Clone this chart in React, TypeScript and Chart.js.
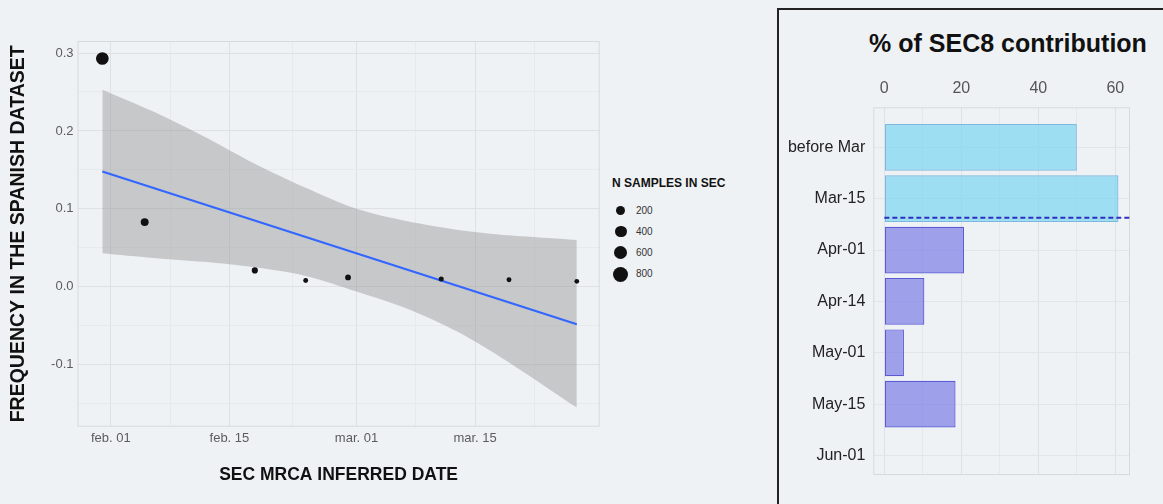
import React, { useEffect, useRef } from 'react';
import { Chart, registerables } from 'chart.js';

Chart.register(...registerables);

const FONT = '"Liberation Sans", Arial, Helvetica, sans-serif';

// ---------- Left chart data (days counted from 1 Feb 2020) ----------
const pointDays = [-1, 4, 17, 23, 28, 39, 47, 55];
const pointFreq = [0.293, 0.083, 0.021, 0.008, 0.012, 0.010, 0.009, 0.007];
const pointSamples = [500, 110, 35, 8, 25, 10, 8, 6];

const fitDays = [-1, 55];
const fitFreq = [0.148, -0.048];

const bandDays = [-1, 5, 11, 17, 23, 29, 35, 41, 47, 55];
const bandUpper = [0.253, 0.225, 0.193, 0.158, 0.127, 0.1, 0.084, 0.073, 0.066, 0.06];
const bandLower = [0.043, 0.037, 0.032, 0.025, 0.014, -0.006, -0.028, -0.058, -0.097, -0.155];

const xMajorTicks = [0, 14, 29, 43];
const xMajorLabels = ['feb. 01', 'feb. 15', 'mar. 01', 'mar. 15'];
const xMinorTicks = [7, 21.5, 36, 50];
const yMajorTicks = [-0.1, 0, 0.1, 0.2, 0.3];
const yMajorLabels = ['-0.1', '0.0', '0.1', '0.2', '0.3'];
const yMinorTicks = [-0.15, -0.05, 0.05, 0.15, 0.25];
const legendSamples = [200, 400, 600, 800];

// ---------- Right chart data ----------
const periods = ['before Mar', 'Mar-15', 'Apr-01', 'Apr-14', 'May-01', 'May-15', 'Jun-01'];
const contribution = [50, 60.8, 20.7, 10.4, 5.1, 18.5, 0];
const periodGroup = ['early', 'early', 'late', 'late', 'late', 'late', 'late'];
const contribTicks = [0, 20, 40, 60];
const contribMinor = [10, 30, 50];
const thresholdPos = 1.37;

const groupFill: Record<string, string> = {
  early: 'rgba(126,213,241,0.72)',
  late: 'rgba(128,127,230,0.72)',
};
const groupBorder: Record<string, string> = {
  early: '#7db8e0',
  late: '#5a5ad4',
};

const sizeToRadius = (n: number) => 1.9 + 0.198 * Math.sqrt(n);

const near = (arr: number[], v: number) => arr.findIndex((a) => Math.abs(a - v) < 1e-6);

const panelBorder = {
  id: 'panelBorder',
  beforeDatasetsDraw(chart: any) {
    const { ctx, chartArea } = chart;
    ctx.save();
    ctx.strokeStyle = '#d6dadd';
    ctx.lineWidth = 1;
    ctx.strokeRect(chartArea.left + 0.5, chartArea.top + 0.5, chartArea.right - chartArea.left - 1, chartArea.bottom - chartArea.top - 1);
    ctx.restore();
  },
};

const thresholdLine = {
  id: 'thresholdLine',
  afterDatasetsDraw(chart: any) {
    const { ctx, chartArea, scales } = chart;
    const y = scales.y.getPixelForValue(thresholdPos);
    const x0 = scales.x.getPixelForValue(0);
    ctx.save();
    ctx.strokeStyle = '#2f2fc0';
    ctx.lineWidth = 2;
    ctx.setLineDash([5, 3]);
    ctx.beginPath();
    ctx.moveTo(x0, y);
    ctx.lineTo(chartArea.right, y);
    ctx.stroke();
    ctx.restore();
  },
};

export default function App() {
  const leftRef = useRef<HTMLCanvasElement>(null);
  const rightRef = useRef<HTMLCanvasElement>(null);

  useEffect(() => {
    const left = new Chart(leftRef.current as HTMLCanvasElement, {
      type: 'line',
      data: {
        datasets: [
          {
            label: 'samples',
            data: pointDays.map((d, i) => ({ x: d, y: pointFreq[i] })),
            showLine: false,
            pointRadius: pointSamples.map(sizeToRadius),
            pointBackgroundColor: '#111',
            pointBorderWidth: 0,
            pointHoverRadius: pointSamples.map(sizeToRadius),
          },
          {
            label: 'fit',
            data: fitDays.map((d, i) => ({ x: d, y: fitFreq[i] })),
            showLine: true,
            borderColor: '#3366ff',
            borderWidth: 2.2,
            pointRadius: 0,
            fill: false,
          },
          {
            label: 'upper',
            data: bandDays.map((d, i) => ({ x: d, y: bandUpper[i] })),
            showLine: true,
            borderColor: 'rgba(0,0,0,0)',
            borderWidth: 0,
            pointRadius: 0,
            tension: 0.3,
            fill: '+1',
            backgroundColor: 'rgba(150,150,150,0.46)',
          },
          {
            label: 'lower',
            data: bandDays.map((d, i) => ({ x: d, y: bandLower[i] })),
            showLine: true,
            borderColor: 'rgba(0,0,0,0)',
            borderWidth: 0,
            pointRadius: 0,
            tension: 0.3,
            fill: false,
          },
        ],
      } as any,
      options: {
        animation: false,
        responsive: false,
        events: [],
        layout: { padding: { top: 41, right: 0, left: 0, bottom: 0 } },
        plugins: { legend: { display: false }, tooltip: { enabled: false } },
        scales: {
          x: {
            type: 'linear',
            min: -3.93,
            max: 57.7,
            afterFit: (s: any) => {
              s.height = 77.3;
            },
            afterBuildTicks: (s: any) => {
              s.ticks = [...xMajorTicks, ...xMinorTicks].sort((a, b) => a - b).map((v) => ({ value: v }));
            },
            ticks: {
              autoSkip: false,
              maxRotation: 0,
              padding: 4,
              color: '#5c5c5c',
              font: { family: FONT, size: 13 },
              callback: (v: any) => {
                const i = near(xMajorTicks, Number(v));
                return i >= 0 ? xMajorLabels[i] : '';
              },
            },
            grid: {
              drawTicks: false,
              lineWidth: 1,
              color: (c: any) => (near(xMajorTicks, c.tick?.value) >= 0 ? '#dde1e4' : '#e7eaec'),
            },
            border: { display: false },
            title: {
              display: true,
              text: 'SEC MRCA INFERRED DATE',
              color: '#111',
              font: { family: FONT, size: 17.5, weight: 'bold' },
              padding: { top: 0, bottom: 18 },
            },
          },
          y: {
            type: 'linear',
            min: -0.1795,
            max: 0.3154,
            afterFit: (s: any) => {
              s.width = 77.5;
            },
            afterBuildTicks: (s: any) => {
              s.ticks = [...yMajorTicks, ...yMinorTicks].sort((a, b) => a - b).map((v) => ({ value: v }));
            },
            ticks: {
              autoSkip: false,
              padding: 4,
              color: '#5c5c5c',
              font: { family: FONT, size: 13 },
              callback: (v: any) => {
                const i = near(yMajorTicks, Number(v));
                return i >= 0 ? yMajorLabels[i] : '';
              },
            },
            grid: {
              drawTicks: false,
              lineWidth: 1,
              color: (c: any) => (near(yMajorTicks, c.tick?.value) >= 0 ? '#dde1e4' : '#e7eaec'),
            },
            border: { display: false },
            title: {
              display: true,
              text: 'FREQUENCY IN THE SPANISH DATASET',
              color: '#111',
              font: { family: FONT, size: 19.5, weight: 'bold' },
              padding: { top: 7, bottom: 0 },
            },
          },
        },
      } as any,
      plugins: [panelBorder],
    });

    const right = new Chart(rightRef.current as HTMLCanvasElement, {
      type: 'bar',
      data: {
        datasets: [
          {
            label: '% of SEC8 contribution',
            data: contribution.map((v, i) => ({ x: v, y: i })),
            backgroundColor: (c: any) => groupFill[periodGroup[c.dataIndex]],
            borderColor: (c: any) => groupBorder[periodGroup[c.dataIndex]],
            borderWidth: (c: any) => (contribution[c.dataIndex] > 0 ? 1.2 : 0),
            borderSkipped: false,
            barPercentage: 0.91,
            categoryPercentage: 1,
          },
        ],
      } as any,
      options: {
        indexAxis: 'y',
        animation: false,
        responsive: false,
        events: [],
        layout: { padding: { top: 40, right: 33, bottom: 29, left: 0 } },
        plugins: { legend: { display: false }, tooltip: { enabled: false } },
        scales: {
          x: {
            type: 'linear',
            position: 'top',
            min: -2.86,
            max: 63.8,
            afterFit: (s: any) => {
              s.height = 57.3;
            },
            afterBuildTicks: (s: any) => {
              s.ticks = [...contribTicks, ...contribMinor].sort((a, b) => a - b).map((v) => ({ value: v }));
            },
            ticks: {
              autoSkip: false,
              maxRotation: 0,
              padding: 9,
              color: '#555',
              font: { family: FONT, size: 16 },
              callback: (v: any) => (near(contribTicks, Number(v)) >= 0 ? String(v) : ''),
            },
            grid: {
              drawTicks: false,
              lineWidth: 1,
              color: (c: any) => (near(contribTicks, c.tick?.value) >= 0 ? '#dfe2e5' : '#e6e9eb'),
            },
            border: { display: false },
          },
          y: {
            type: 'linear',
            reverse: true,
            offset: false,
            min: -0.78,
            max: 6.38,
            afterFit: (s: any) => {
              s.width = 94.3;
            },
            afterBuildTicks: (s: any) => {
              s.ticks = periods.map((_, i) => ({ value: i }));
            },
            ticks: {
              autoSkip: false,
              padding: 8,
              color: '#222',
              font: { family: FONT, size: 16 },
              callback: (v: any) => periods[Math.round(Number(v))] ?? '',
            },
            grid: { drawTicks: false, offset: false, lineWidth: 1, color: '#e3e6e8' },
            border: { display: false },
          },
        },
      } as any,
      plugins: [panelBorder, thresholdLine],
    });

    return () => {
      left.destroy();
      right.destroy();
    };
  }, []);

  const legendY = [210.7, 231.5, 252.7, 274.3];

  return (
    <div
      style={{
        position: 'fixed',
        left: 0,
        top: 0,
        width: 1163,
        height: 504,
        background: '#eff2f4',
        overflow: 'hidden',
        fontFamily: FONT,
      }}
    >
      <canvas ref={leftRef} width={606} height={504} style={{ position: 'absolute', left: 0, top: 0 }} />

      <div
        style={{
          position: 'absolute',
          left: 612,
          top: 175.5,
          fontSize: 12,
          lineHeight: '14px',
          fontWeight: 'bold',
          color: '#111',
          whiteSpace: 'nowrap',
        }}
      >
        N SAMPLES IN SEC
      </div>
      {legendSamples.map((n, i) => {
        const r = sizeToRadius(n);
        return (
          <React.Fragment key={n}>
            <div
              style={{
                position: 'absolute',
                left: 620.7 - r,
                top: legendY[i] - r,
                width: 2 * r,
                height: 2 * r,
                borderRadius: '50%',
                background: '#111',
              }}
            />
            <div
              style={{
                position: 'absolute',
                left: 636,
                top: legendY[i] - 6,
                fontSize: 10,
                lineHeight: '12px',
                color: '#333',
              }}
            >
              {n}
            </div>
          </React.Fragment>
        );
      })}

      <div
        style={{
          position: 'absolute',
          left: 777,
          top: 8,
          width: 420,
          height: 520,
          border: '2px solid #222',
          boxSizing: 'border-box',
        }}
      />
      <div
        style={{
          position: 'absolute',
          left: 1008,
          top: 43,
          transform: 'translate(-50%, -50%)',
          fontSize: 25,
          fontWeight: 'bold',
          color: '#111',
          whiteSpace: 'nowrap',
          lineHeight: '30px',
        }}
      >
        % of SEC8 contribution
      </div>
      <canvas ref={rightRef} width={384} height={494} style={{ position: 'absolute', left: 779, top: 10 }} />
    </div>
  );
}
